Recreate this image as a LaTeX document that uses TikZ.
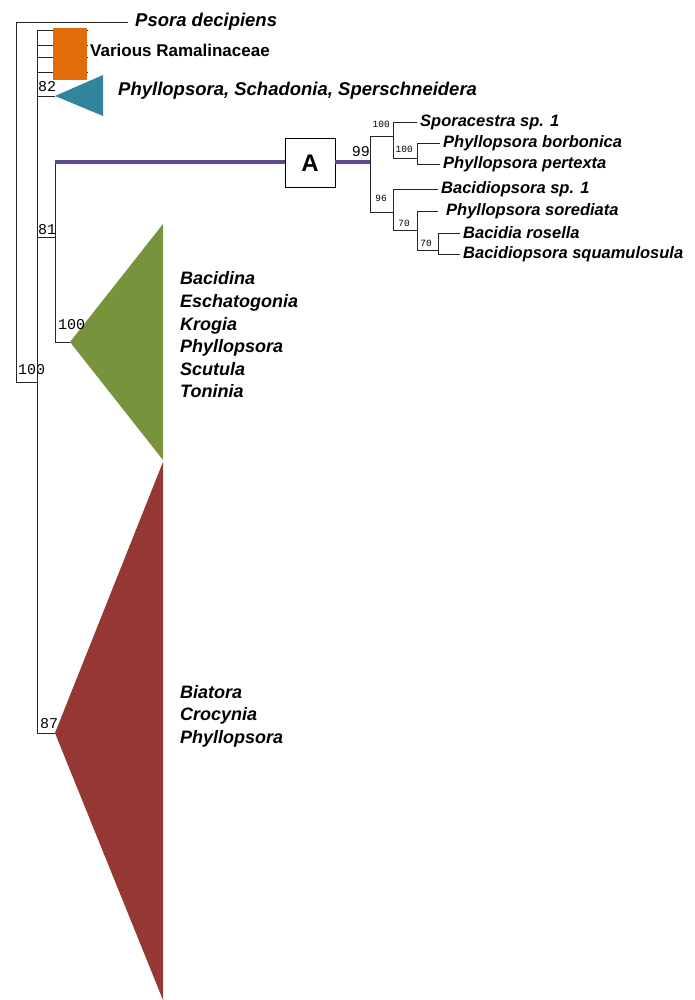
\documentclass[tikz,border=0pt]{standalone}
\usepackage{fontspec}
\setmainfont{Liberation Sans}
\newfontfamily\supfont{Liberation Mono}
\definecolor{ramorange}{HTML}{E36C0A}
\definecolor{cladeteal}{HTML}{31859C}
\definecolor{cladegreen}{HTML}{77933C}
\definecolor{cladered}{HTML}{953735}
\definecolor{stempurple}{HTML}{5F4B8B}
\tikzset{
  branch/.style={line width=0.9pt, black!85},
  clade/.style={anchor=west, inner sep=0pt, align=left, font=\fontsize{18}{22.6}\selectfont\bfseries\itshape},
  leaf/.style={anchor=west, inner xsep=3pt, inner ysep=0pt, font=\fontsize{16.5}{18}\selectfont\bfseries\itshape},
  bs/.style={anchor=base west, inner sep=0pt, font=\supfont\fontsize{15}{15}\selectfont},
  bssmall/.style={anchor=base east, inner sep=0pt, font=\supfont\fontsize{9.5}{10}\selectfont},
}

\begin{document}
\begin{tikzpicture}[x=1pt,y=-1pt]
  \useasboundingbox (0,0) rectangle (695,1000);
  % backbone
  \coordinate (root) at (16,382);
  \coordinate (ingroup) at (37,382);
  \node[leaf, inner xsep=7pt, font=\fontsize{18.5}{18}\selectfont\bfseries\itshape] (psora) at (128,22) {Psora decipiens};
  \draw[branch] (ingroup) -- (root) |- (psora.west);
  \node[bs] at (18,374) {100};

  % Ramalinaceae
  \foreach \y [count=\i] in {30,45,57,72} {
    \coordinate (ram\i) at (88,\y);
    \draw[branch] (ingroup) |- (ram\i);
  }
  \fill[ramorange] (53,28) rectangle (87,80);
  \node[anchor=west, inner sep=0pt, font=\fontsize{17}{17}\selectfont\bfseries] (ramlab) at (90,50) {Various Ramalinaceae};

  % teal clade
  \coordinate (tealtip) at (55,96);
  \draw[branch] (ingroup) |- (tealtip);
  \fill[cladeteal] (tealtip) -- (103,75) -- (103,116) -- cycle;
  \node[bs] at (38,92) {82};
  \node[clade, font=\fontsize{18.5}{18}\selectfont\bfseries\itshape] (teallab) at (118,91) {Phyllopsora, Schadonia, Sperschneidera};

  % node 81 and green clade
  \coordinate (n81) at (55,237);
  \coordinate (stem) at (55,162);
  \coordinate (greentip) at (70,342);
  \draw[branch] (ingroup) |- (n81);
  \draw[branch] (stem) |- (greentip);
  \node[bs] at (38,234) {81};
  \fill[cladegreen] (greentip) -- (163,224) -- (163,460) -- cycle;
  \node[bs] at (58,329) {100};
  \node[clade] (greenlab) at (180,335) {Bacidina\\Eschatogonia\\Krogia\\Phyllopsora\\Scutula\\Toninia};

  % red clade
  \coordinate (redtip) at (55,733);
  \draw[branch] (ingroup) |- (redtip);
  \fill[cladered] (redtip) -- (163,462) -- (163,1000) -- cycle;
  \node[bs] at (40,728) {87};
  \node[clade] (redlab) at (180,716) {Biatora\\Crocynia\\Phyllopsora};

  % stem with box A
  \coordinate (n99) at (370,162);
  \node[draw, fill=white, line width=0.9pt, minimum width=50pt, minimum height=49pt, inner sep=0pt,
        font=\fontsize{24}{24}\selectfont\bfseries] (boxA) at (310,163) {A};
  \draw[stempurple, line width=4.5pt] (stem) -- (stem -| boxA.west) (stem -| boxA.east) -- (n99);
  \node[bs, anchor=base east] at (370,157) {99};

  % subtree
  \coordinate (n2) at (393,136);
  \coordinate (n3) at (417,158);
  \coordinate (n4) at (393,212);
  \coordinate (n5) at (417,230);
  \coordinate (n6) at (438,250);
  \node[leaf] (spo) at (417,122) {Sporacestra sp. 1};
  \node[leaf] (bor) at (440,143) {Phyllopsora borbonica};
  \node[leaf] (per) at (440,164) {Phyllopsora pertexta};
  \node[leaf] (bsp) at (438,189) {Bacidiopsora sp. 1};
  \node[leaf, inner xsep=8pt] (sor) at (438,211) {Phyllopsora sorediata};
  \node[leaf] (ros) at (460,233) {Bacidia rosella};
  \node[leaf] (squ) at (460,254) {Bacidiopsora squamulosula};
  \draw[branch] (n99) |- (n2) (n2) |- (spo.west) (n2) |- (n3) (n3) |- (bor.west) (n3) |- (per.west)
    (n99) |- (n4) (n4) |- (bsp.west) (n4) |- (n5) (n5) |- (sor.west) (n5) |- (n6)
    (n6) |- (ros.west) (n6) |- (squ.west);
  \node[bssmall] at (390,128) {100};
  \node[bssmall] at (413,153) {100};
  \node[bssmall] at (387,202) {96};
  \node[bssmall] at (410,226) {70};
  \node[bssmall] at (432,247) {70};
\end{tikzpicture}
\end{document}
